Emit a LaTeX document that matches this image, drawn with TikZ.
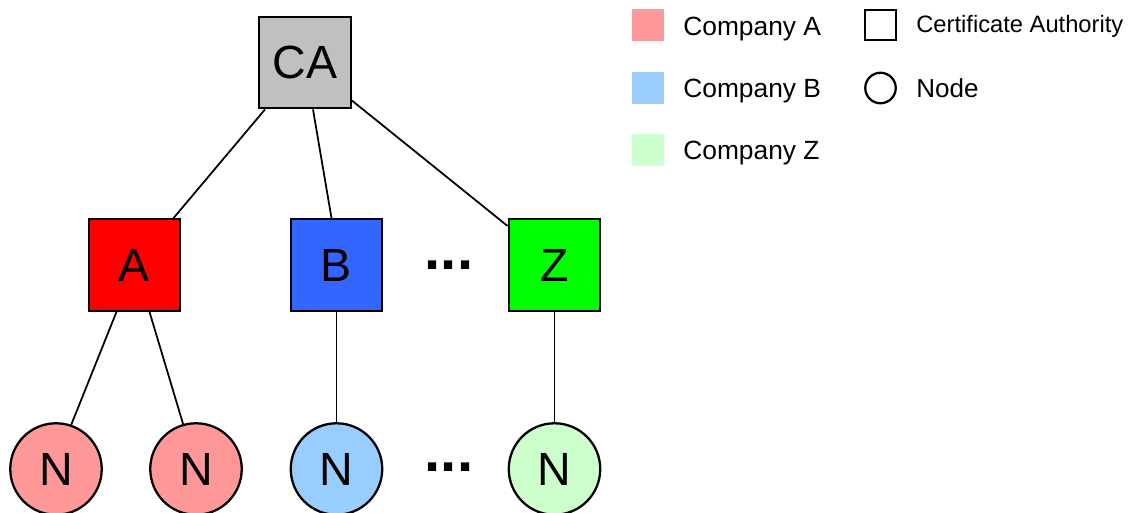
\documentclass[tikz,border=0pt]{standalone}
\usepackage{fontspec}
\setmainfont{Liberation Sans}
\usetikzlibrary{calc}
\definecolor{cagray}{HTML}{C0C0C0}
\definecolor{compa}{HTML}{FF0000}
\definecolor{compb}{HTML}{3366FF}
\definecolor{compz}{HTML}{00FF00}
\definecolor{peera}{HTML}{FF9999}
\definecolor{peerb}{HTML}{99CCFF}
\definecolor{peerz}{HTML}{CCFFCC}
\newcommand{\bigfont}{\fontsize{26.5}{30}\selectfont}
\newcommand{\dotfont}{\fontsize{33}{36}\selectfont\bfseries}
\newcommand{\legfont}{\fontsize{15}{18}\selectfont}

\begin{document}
\begin{tikzpicture}[x=0.02cm, y=-0.02cm,
    box/.style={draw, line width=1.3pt, minimum size=1.83cm, inner sep=0pt, font=\bigfont},
    peer/.style={draw, circle, line width=1.3pt, minimum size=1.83cm, inner sep=0pt, font=\bigfont},
    link/.style={line width=1pt},
    swatch/.style={minimum size=0.64cm, inner sep=0pt}]
\useasboundingbox (0,0) rectangle (1130,512);

% Root and company authorities
\node[box, fill=cagray] (CA) at (305,62.5) {CA};
\node[box, fill=compa] (A) at (134.5,265) {A};
\node[box, fill=compb] (B) at (336.5,265) {B};
\node[box, fill=compz] (Z) at (554.5,265) {Z};

% Peers
\node[peer, fill=peera] (N1) at (56,469) {N};
\node[peer, fill=peera] (N2) at (196,469) {N};
\node[peer, fill=peerb] (N3) at (336.5,469) {N};
\node[peer, fill=peerz] (N4) at (554.5,469) {N};

% Ellipses
\node[font=\dotfont, inner sep=0pt] (dotsTop) at (449,265) {...};
\node[font=\dotfont, inner sep=0pt] (dotsBot) at (449,467) {...};

% Links
\draw[link] ($(CA.south)+(-40,0)$) -- ($(A.north)+(39,0)$);
\draw[link] ($(CA.south)+(8,0)$) -- ($(B.north)+(-5,0)$);
\draw[link] ($(CA.east)+(0,38)$) -- ($(Z.west)+(0,-39)$);
\draw[link] ($(A.south)+(-18,0)$) -- (N1.71);
\draw[link] ($(A.south)+(15,0)$) -- (N2.106);
\draw[link] (B) -- (N3);
\draw[link] (Z) -- (N4);

% Legend
\node[swatch, fill=peera] (legA) at (648,25) {};
\node[font=\legfont, anchor=base west, inner sep=0pt] (legAtxt) at (683,35) {Company A};
\node[swatch, fill=peerb] (legB) at (648,88) {};
\node[font=\legfont, anchor=base west, inner sep=0pt] (legBtxt) at (683,97) {Company B};
\node[swatch, fill=peerz] (legZ) at (648,150) {};
\node[font=\legfont, anchor=base west, inner sep=0pt] (legZtxt) at (683,159) {Company Z};
\node[draw, line width=1.3pt, minimum size=0.61cm, inner sep=0pt] (legCA) at (880.5,25) {};
\node[font=\fontsize{13.5}{16}\selectfont, anchor=base west, inner sep=0pt] (legCAtxt) at (916,32) {Certificate Authority};
\node[draw, circle, line width=1.3pt, minimum size=0.61cm, inner sep=0pt] (legN) at (880.5,88) {};
\node[font=\fontsize{14.8}{18}\selectfont, anchor=base west, inner sep=0pt] (legNtxt) at (916,97) {Node};
\end{tikzpicture}
\end{document}
